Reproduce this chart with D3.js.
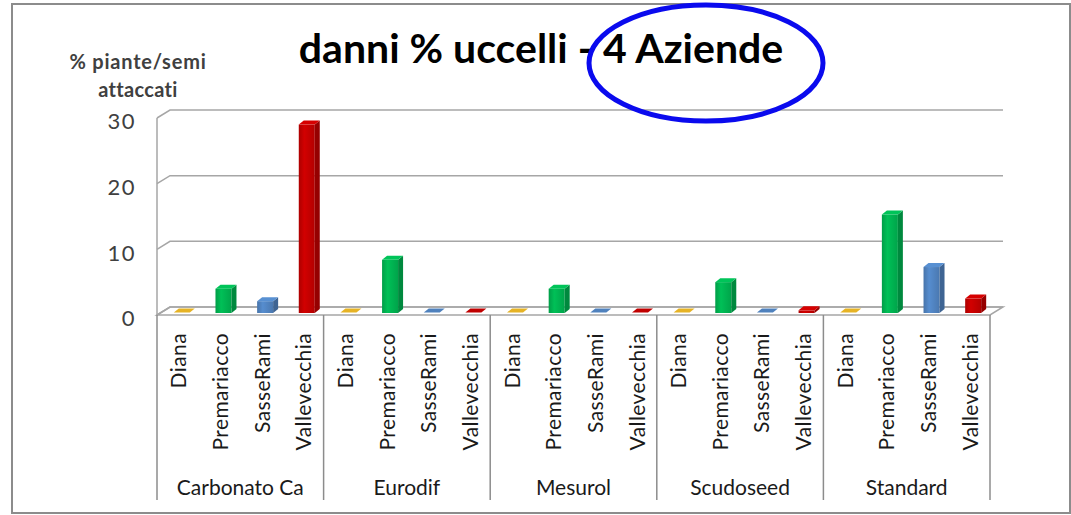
<!DOCTYPE html>
<meta charset="utf-8">
<style>
  body { margin: 0; background: #fff; }
  svg text { font-family: Lato, "Open Sans", sans-serif; }
  .grid { stroke: #a6a6a6; stroke-width: 1.5; fill: none; }
  .sep { stroke: #8c8c8c; stroke-width: 1.5; }
  .yaxis .domain { display: none; }
  .yaxis text { font-size: 22px; fill: #404040; letter-spacing: 1.5px; }
</style>
<body>
<script src="https://d3js.org/d3.v7.min.js"></script>
<script>

  var groups = ["Carbonato Ca", "Eurodif", "Mesurol", "Scudoseed", "Standard"];
  var farms = ["Diana", "Premariacco", "SasseRami", "Vallevecchia"];
  var yTicks = [0, 10, 20, 30];

  // % piante/semi attaccati, one array per azienda (in group order)
  var diana = [0, 0, 0, 0.1, 0];
  var premariacco = [3.7, 8.1, 3.7, 4.7, 15];
  var sasseRami = [1.8, 0.1, 0.1, 0.1, 7];
  var vallevecchia = [28.7, 0.1, 0.1, 0.4, 2.2];

  var series = [diana, premariacco, sasseRami, vallevecchia];
  var colors = ["#e6b325", "#00b050", "#4f81bd", "#c00000"];

  var W = 1071, H = 515;
  var dx = 13, dy = -8;       // depth of the 3d box
  var floorY = 315;           // front edge of the floor

  var svg = d3.select("body").append("svg")
    .attr("width", W)
    .attr("height", H);

  // outer frame
  svg.append("rect")
    .attr("x", 12).attr("y", 4)
    .attr("width", 1058).attr("height", 509)
    .attr("fill", "none")
    .attr("stroke", "#8c8c8c")
    .attr("stroke-width", 2);

  var x0 = d3.scaleBand().domain(groups).range([157, 990]);
  var x1 = d3.scaleBand().domain(farms).range([0, x0.bandwidth()]);
  var y = d3.scaleLinear().domain([0, 30]).range([floorY + dy, 110]);

  // gradients for the bar faces
  var defs = svg.append("defs");
  colors.forEach(function (c, i) {
    var g = defs.append("linearGradient").attr("id", "g" + i);
    g.append("stop").attr("offset", "0%").attr("stop-color", d3.color(c).darker(0.3));
    g.append("stop").attr("offset", "35%").attr("stop-color", d3.color(c).brighter(0.25));
    g.append("stop").attr("offset", "100%").attr("stop-color", d3.color(c).darker(0.2));
  });

  // back wall gridlines + left wall
  svg.append("line").attr("class", "grid")
    .attr("x1", 157).attr("x2", 157)
    .attr("y1", y(30) - dy).attr("y2", floorY);

  svg.selectAll(".gl").data(yTicks).enter().append("path")
    .attr("class", "grid gl")
    .attr("d", function (v) {
      return "M157," + (y(v) - dy) + "L" + (157 + dx) + "," + y(v) + "H" + (990 + dx);
    });

  // floor
  svg.append("path").attr("class", "grid")
    .attr("fill", "#fff")
    .attr("d", "M157," + floorY + "L" + (157 + dx) + "," + (floorY + dy) +
      "H" + (990 + dx) + "L990," + floorY + "Z");

  // y axis labels
  svg.append("g").attr("class", "yaxis")
    .attr("transform", "translate(136," + (-dy + 3) + ")")
    .call(d3.axisLeft(y).tickValues(yTicks).tickSize(0).tickPadding(0))
    .selectAll("text").attr("dy", "0.36em");

  // bars
  var bw = 16, bdx = 5, bdy = -4, base = floorY - 2;
  var yb = function (v) { return y(v) - dy - 2; };

  var cells = [];
  series.forEach(function (s, si) {
    s.forEach(function (v, gi) {
      cells.push({ g: groups[gi], f: farms[si], v: v, c: si });
    });
  });

  var bars = svg.selectAll(".bar").data(cells).enter().append("g").attr("class", "bar");

  function left(d) { return x0(d.g) + x1(d.f) + x1.bandwidth() / 2 - 4; }

  bars.filter(function (d) { return d.v > 0.3; }).append("rect")
    .attr("x", left)
    .attr("y", function (d) { return yb(d.v); })
    .attr("width", bw)
    .attr("height", function (d) { return base - yb(d.v); })
    .attr("fill", function (d) { return "url(#g" + d.c + ")"; });

  bars.filter(function (d) { return d.v > 0.3; }).append("path")
    .attr("fill", function (d) { return d3.color(colors[d.c]).darker(0.7); })
    .attr("d", function (d) {
      var xr = left(d) + bw, t = yb(d.v);
      return "M" + xr + "," + t + "l" + bdx + "," + bdy + "V" + (base + bdy) + "l" + (-bdx) + "," + (-bdy) + "Z";
    });

  bars.append("path")
    .attr("fill", function (d) { return d3.color(colors[d.c]).brighter(d.v > 0.3 ? 0.3 : 0); })
    .attr("d", function (d) {
      var xl = left(d), t = d.v > 0.3 ? yb(d.v) : base - 0.5;
      return "M" + xl + "," + t + "l" + bdx + "," + bdy + "h" + bw + "l" + (-bdx) + "," + (-bdy) + "Z";
    });

  // category separators
  var edges = groups.map(function (g) { return x0(g); }).concat([x0.range()[1]]);
  svg.selectAll(".sep").data(edges).enter().append("line")
    .attr("class", "sep")
    .attr("x1", function (d) { return d; }).attr("x2", function (d) { return d; })
    .attr("y1", floorY).attr("y2", 500);

  // farm labels (rotated)
  var lab = [];
  groups.forEach(function (g) { farms.forEach(function (f) { lab.push({ g: g, f: f }); }); });
  svg.selectAll(".flab").data(lab).enter().append("text")
    .attr("class", "flab")
    .attr("transform", function (d) {
      return "translate(" + (x0(d.g) + x1(d.f) + x1.bandwidth() / 2 + 1) + ",333) rotate(-90)";
    })
    .attr("text-anchor", "end")
    .attr("dy", "0.36em")
    .attr("font-size", 21)
    .attr("letter-spacing", 0.4)
    .attr("fill", "#1a1a1a")
    .text(function (d) { return d.f; });

  // group labels
  svg.selectAll(".glab").data(groups).enter().append("text")
    .attr("x", function (g) { return x0(g) + x0.bandwidth() / 2; })
    .attr("y", 495)
    .attr("text-anchor", "middle")
    .attr("font-size", 21)
    .attr("fill", "#1a1a1a")
    .text(function (g) { return g; });

  // y label
  svg.append("text")
    .attr("x", 138).attr("y", 69)
    .attr("text-anchor", "middle")
    .attr("font-size", 20).attr("font-weight", "bold")
    .attr("fill", "#404040")
    .selectAll("tspan").data(["% piante/semi", "attaccati"]).enter().append("tspan")
    .attr("x", 138)
    .attr("dy", function (d, i) { return i ? 28 : 0; })
    .attr("letter-spacing", function (d, i) { return i ? 0.3 : 0.8; })
    .text(function (d) { return d; });

  // title
  svg.append("text")
    .attr("x", 541).attr("y", 63)
    .attr("text-anchor", "middle")
    .attr("font-size", 41).attr("font-weight", "bold")
    .attr("fill", "#000")
    .text("danni % uccelli - 4 Aziende");

  // highlight
  svg.append("ellipse")
    .attr("cx", 706).attr("cy", 63)
    .attr("rx", 117).attr("ry", 58)
    .attr("fill", "none")
    .attr("stroke", "#0a0aee")
    .attr("stroke-width", 5);

</script>
